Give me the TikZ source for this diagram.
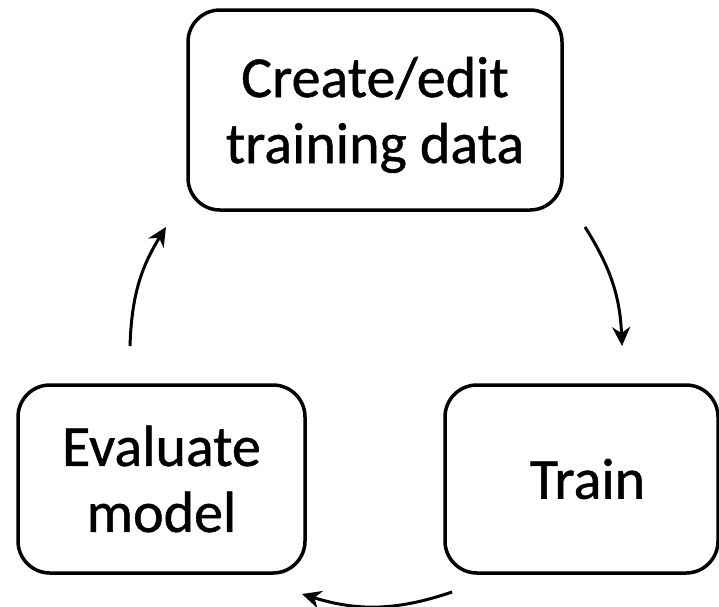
\documentclass[tikz,border=0pt]{standalone}
\usepackage{fontspec}
\setmainfont{Carlito}
\usetikzlibrary{arrows.meta}
\begin{document}
\begin{tikzpicture}[x=1pt,y=1pt,
  stepbox/.style={draw=black, line width=3.5pt, rounded corners=32pt, align=center, inner sep=0pt,
    font=\fontsize{58}{66}\selectfont\addfontfeature{FakeBold=0.8}},
  flow/.style={line width=3pt, -{Stealth[length=19pt,width=18pt]}, bend left=15}]
\useasboundingbox (0,0) rectangle (719,-606);
\node[stepbox, minimum width=374pt, minimum height=200pt] (create) at (375,-110) {\rule{0pt}{50pt}Create/edit\\training data};
\node[stepbox, minimum width=273pt, minimum height=188pt] (train) at (581.5,-479) {\hspace*{12pt}Train};
\node[stepbox, minimum width=287pt, minimum height=188pt] (eval) at (161.5,-479) {Evaluate\\model};
\coordinate (a1s) at (585,-227);
\coordinate (a1e) at (622,-346);
\coordinate (a2s) at (452,-592);
\coordinate (a2e) at (302,-594);
\coordinate (a3s) at (130,-346);
\coordinate (a3e) at (166,-227);
\draw[flow] (a1s) to (a1e);
\draw[flow, bend left=18] (a2s) to (a2e);
\draw[flow] (a3s) to (a3e);
\end{tikzpicture}
\end{document}
